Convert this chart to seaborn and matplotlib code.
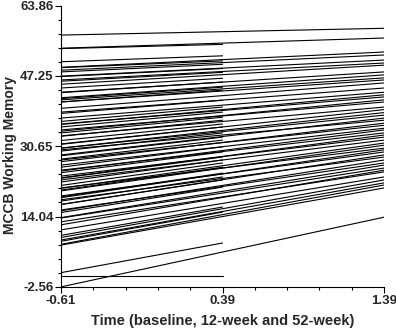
import matplotlib
matplotlib.use("Agg")
import matplotlib.pyplot as plt
from matplotlib.ticker import AutoMinorLocator
import seaborn as sns
import pandas as pd

# time points (centred)
t_base, t_12wk, t_52wk = -0.61, 0.39, 1.39

# subjects with all visits: score at baseline and at 52 weeks
full_start = [56.9, 53.8, 49.3, 48.6, 47.2, 46.3, 45.3, 43.4, 42.1, 41.6, 41.1,
              39.6, 38.7, 37.3, 35.9, 35.8, 34.5, 34.2, 33.1, 31.1, 30.2, 30.2,
              29.8, 28.6, 27.4, 27.0, 26.2, 25.0, 24.8, 23.6, 23.2, 22.7, 20.8,
              20.7, 20.1, 18.9, 18.5, 18.0, 16.9, 15.6, 15.4, 13.8, 13.7, 12.8,
              12.1, 10.9, 9.1, 8.5, 7.5, 7.3, -2.56]
full_end = [58.5, 56.2, 52.9, 52.2, 51.0, 50.3, 49.8, 48.2, 47.5, 46.8, 46.3,
            45.6, 44.4, 43.4, 42.3, 42.8, 41.1, 41.6, 39.9, 39.3, 38.0, 38.6,
            36.8, 37.3, 35.6, 36.1, 34.9, 33.8, 34.5, 32.8, 33.3, 32.1, 30.2,
            31.4, 30.9, 29.3, 29.8, 28.1, 28.6, 26.7, 27.4, 26.2, 25.5, 24.6,
            25.0, 23.4, 22.7, 22.0, 21.5, 20.8, 13.9]

# subjects followed only to 12 weeks
short_start = [53.7, 50.6, 49.2, 48.2, 47.1, 46.0, 44.4, 43.3, 41.9, 41.1, 38.4,
               36.5, 35.2, 33.8, 33.0, 32.0, 31.2, 29.5, 28.4, 27.6, 25.7, 24.4,
               23.1, 22.2, 21.4, 20.3, 18.7, 17.7, 16.9, 15.0, 9.6, 8.2, 0.8, 0.0]
short_end = [54.7, 52.0, 50.8, 50.0, 49.0, 48.1, 46.7, 45.8, 44.6, 43.9, 41.5,
             39.9, 38.7, 37.5, 36.8, 35.9, 35.2, 33.8, 32.8, 32.1, 30.5, 29.3,
             28.1, 27.4, 26.7, 25.7, 24.3, 23.4, 22.7, 21.0, 16.3, 15.1, 7.8, 0.0]

y_ticks = [-2.56, 14.045, 30.65, 47.255, 63.86]
y_ticklabels = ["-2.56", "14.04", "30.65", "47.25", "63.86"]
x_ticks = [t_base, t_12wk, t_52wk]
x_ticklabels = ["-0.61", "0.39", "1.39"]

rows = []
sid = 0
for a, b in zip(full_start, full_end):
    rows += [(sid, t_base, a), (sid, t_52wk, b)]
    sid += 1
for a, b in zip(short_start, short_end):
    rows += [(sid, t_base, a), (sid, t_12wk, b)]
    sid += 1
df = pd.DataFrame(rows, columns=["id", "time", "score"])

sns.set_style("ticks")
plt.rcParams["font.family"] = ["Liberation Sans", "DejaVu Sans"]

fig = plt.figure(figsize=(3.96, 3.29), dpi=100)
ax = fig.add_axes([0.154, 0.128, 0.816, 0.855])

sns.lineplot(data=df, x="time", y="score", units="id", estimator=None,
             color="black", lw=0.8, ax=ax)

ax.set_xlim(t_base, t_52wk)
ax.set_ylim(y_ticks[0], y_ticks[-1])
ax.set_xticks(x_ticks)
ax.set_xticklabels(x_ticklabels, fontsize=9.5, fontweight="bold")
ax.set_yticks(y_ticks)
ax.set_yticklabels(y_ticklabels, fontsize=9.5, fontweight="bold")
ax.xaxis.set_minor_locator(AutoMinorLocator(5))
ax.yaxis.set_minor_locator(AutoMinorLocator(5))
ax.tick_params(which="major", direction="out", length=4, width=0.8, color="black", pad=1.5)
ax.tick_params(which="minor", direction="out", length=2.5, width=0.8, color="black")

ax.set_xlabel("Time (baseline, 12-week and 52-week)", fontsize=10.5, fontweight="bold")
ax.set_ylabel("MCCB Working Memory", fontsize=10, fontweight="bold")
ax.xaxis.set_label_coords(0.5, -0.095)
ax.yaxis.set_label_coords(-0.135, 0.47)

sns.despine(ax=ax)
for s in ["left", "bottom"]:
    ax.spines[s].set_color("black")
    ax.spines[s].set_linewidth(0.8)

fig.savefig("out.png", dpi=100)
